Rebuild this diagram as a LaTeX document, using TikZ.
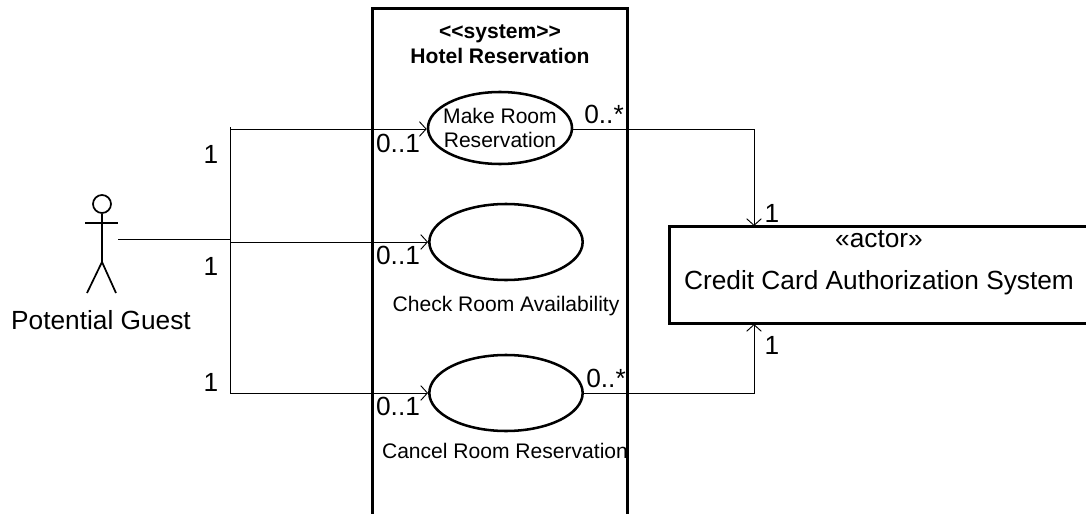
\documentclass[tikz,border=0pt]{standalone}
\usepackage{fontspec}
\setmainfont{Liberation Sans}
\usetikzlibrary{arrows.meta, shapes.geometric}

\begin{document}
\begin{tikzpicture}
    [x=0.75pt, y=-0.75pt, >={Straight Barb[length=5pt,width=11pt]},
     every node/.style={inner sep=0pt},
     heavy/.style={draw, line width=2.2pt},
     usecase/.style={heavy, ellipse, line width=1.9pt, anchor=center},
     thinline/.style={draw, line width=0.7pt},
     stickman/.style={draw, line width=1.3pt},
     multnum/.style={font=\fontsize{19.7}{22}\selectfont},
     smalltext/.style={font=\fontsize{15.8}{18}\selectfont, align=center},
     bigtext/.style={font=\fontsize{19.7}{22}\selectfont}]

    \useasboundingbox (0,0) rectangle (1086,514);

    % system boundary, open at the bottom
    \node (hotel) [heavy, minimum width=191pt, minimum height=390pt, anchor=north west] at (371,7) {};
    \node (hoteltitle) [smalltext, font=\bfseries\fontsize{15.8}{18.7}\selectfont] at (500,44) {<{}<system>{}>\\Hotel Reservation};

    % use cases
    \node (make) [usecase, minimum width=108pt, minimum height=54pt] at (500,128) {};
    \node (maketext) [smalltext] at (500,128) {Make Room\\Reservation};
    \node (check) [usecase, minimum width=115pt, minimum height=57pt] at (506,242) {};
    \node (checktext) [smalltext] at (506,306) {Check Room Availability};
    \node (cancel) [usecase, minimum width=115pt, minimum height=57pt] at (506,393) {};
    \node (canceltext) [smalltext] at (505,451) {Cancel Room Reservation};

    % external system
    \node (credit) [heavy, minimum width=315pt, minimum height=73pt, anchor=north west] at (668,225) {};
    \node (actortext) [bigtext] at (879,239) {«actor»};
    \node (credittext) [bigtext] at (879,283) {Credit Card Authorization System};

    % potential guest
    \node (head) [stickman, circle, minimum size=13.5pt] at (102,204) {};
    \coordinate (hip) at (102,262);
    \coordinate (hand) at (118,239);
    \coordinate (fork) at (230,239);
    \draw[stickman] (head.south) -- (hip);
    \draw[stickman] (85,223) -- (118,223);
    \draw[stickman] (87,293) -- (hip) -- (116,293);
    \node (guest) [bigtext] at (101,320) {Potential Guest};

    % connectors
    \coordinate (top) at (230,129);
    \coordinate (mid) at (230,242);
    \coordinate (bottom) at (230,393);
    \coordinate (credittop) at (754,226);
    \coordinate (creditbot) at (754,324);
    \draw[thinline] (hand) -- (fork);
    \draw[thinline] (230,127) -- (bottom);
    \draw[thinline, ->] (top) -- (make.west |- top);
    \draw[thinline, ->] (mid) -- (check.west);
    \draw[thinline, ->] (bottom) -- (cancel.west);
    \draw[thinline, ->] (make.east |- top) -| (credittop);
    \draw[thinline, ->] (cancel.east) -| (creditbot);

    % multiplicities
    \node (n1) [multnum] at (211,154) {1};
    \node (n2) [multnum] at (211,266) {1};
    \node (n3) [multnum] at (211,382) {1};
    \node (m1) [multnum] at (398,143) {0..1};
    \node (m2) [multnum] at (398,255) {0..1};
    \node (m3) [multnum] at (398,406) {0..1};
    \node (s1) [multnum] at (604,114) {0..*};
    \node (s2) [multnum] at (606,378) {0..*};
    \node (r1) [multnum] at (772,213) {1};
    \node (r2) [multnum] at (772,345) {1};

\end{tikzpicture}
\end{document}
